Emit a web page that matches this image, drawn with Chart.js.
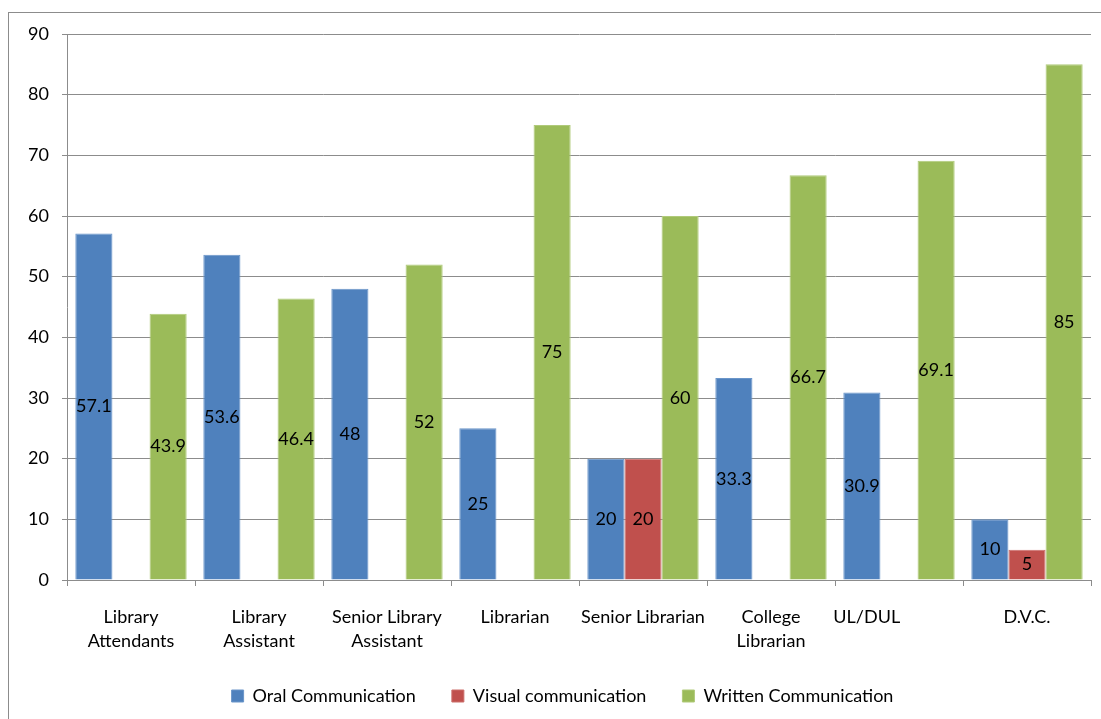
<!DOCTYPE html>
<html>
<head>
<meta charset="utf-8">
<script src="https://cdn.jsdelivr.net/npm/chart.js@4/dist/chart.umd.min.js"></script>
<style>
  html, body { margin: 0; padding: 0; background: #fff; }
  #wrap { width: 1101px; height: 719px; }
</style>
</head>
<body>
<div id="wrap"><canvas id="chart"></canvas></div>
<script>
const categories = [
  ["Library", "Attendants"],
  ["Library", "Assistant"],
  ["Senior Library", "Assistant"],
  "Librarian",
  "Senior Librarian",
  ["College", "Librarian"],
  "UL/DUL              ",
  "D.V.C."
];
const oralValues = [57.1, 53.6, 48, 25, 20, 33.3, 30.9, 10];
const visualValues = [0, 0, 0, 0, 20, 0, 0, 5];
const writtenValues = [43.9, 46.4, 52, 75, 60, 66.7, 69.1, 85];
const seriesNames = ["Oral Communication", "Visual communication", "Written Communication"];

const fontFamily = "Lato, 'Open Sans', sans-serif";

// outer frame of the chart object + fixed legend height / position
const framePlugin = {
  id: "frame",
  afterInit(chart) {
    const legend = chart.legend;
    const origFit = legend.fit;
    legend.fit = function () {
      origFit.call(this);
      this.height = 68;
    };
  },
  afterLayout(chart) {
    // nudge legend to the right like the original
    chart.legend.left += 17;
    chart.legend.right += 17;
  },
  beforeDraw(chart) {
    const ctx = chart.ctx;
    ctx.save();
    ctx.fillStyle = "#fff";
    ctx.fillRect(0, 0, chart.width, chart.height);
    ctx.strokeStyle = "#8c8c8c";
    ctx.lineWidth = 1;
    ctx.strokeRect(8.5, 12.5, chart.width + 20, chart.height + 20);
    ctx.restore();
  }
};

// value labels in the middle of each bar
const barLabels = {
  id: "barLabels",
  afterDatasetsDraw(chart) {
    const ctx = chart.ctx;
    ctx.save();
    ctx.font = "18px " + fontFamily;
    ctx.fillStyle = "#000";
    ctx.textAlign = "center";
    ctx.textBaseline = "middle";
    chart.data.datasets.forEach((ds, i) => {
      chart.getDatasetMeta(i).data.forEach((bar, j) => {
        const v = ds.data[j];
        if (!v) return;
        ctx.fillText(String(v), bar.x, (bar.y + bar.base) / 2);
      });
    });
    ctx.restore();
  }
};

new Chart(document.getElementById("chart").getContext("2d"), {
  type: "bar",
  data: {
    labels: categories,
    datasets: [
      { label: seriesNames[0], data: oralValues, backgroundColor: "#4f81bd", borderColor: "#6a95c9", borderWidth: 1 },
      { label: seriesNames[1], data: visualValues, backgroundColor: "#c0504d", borderColor: "#cc6e6b", borderWidth: 1 },
      { label: seriesNames[2], data: writtenValues, backgroundColor: "#9bbb59", borderColor: "#b0ca7a", borderWidth: 1 }
    ]
  },
  options: {
    responsive: true,
    maintainAspectRatio: false,
    animation: false,
    layout: { padding: { left: 0, right: 10, top: 34, bottom: 0 } },
    datasets: { bar: { categoryPercentage: 0.87, barPercentage: 1 } },
    scales: {
      x: {
        grid: { drawOnChartArea: false, drawTicks: true, tickLength: 6, color: "#8c8c8c", offset: true },
        border: { display: true, color: "#8c8c8c" },
        ticks: { color: "#000", font: { family: fontFamily, size: 18, lineHeight: 1.333 }, maxRotation: 0, autoSkip: false, padding: 19 },
        afterFit(scale) { scale.height = 71; }
      },
      y: {
        min: 0,
        max: 90,
        grid: { color: "#8c8c8c", tickLength: 5 },
        border: { display: true, color: "#8c8c8c" },
        ticks: { stepSize: 10, color: "#000", font: { family: fontFamily, size: 18 }, padding: 13 },
        afterFit(scale) { scale.width = 67; }
      }
    },
    plugins: {
      legend: {
        position: "bottom",
        labels: {
          boxWidth: 12,
          boxHeight: 12,
          padding: 36,
          color: "#000",
          font: { family: fontFamily, size: 18 },
          useBorderRadius: false
        }
      },
      tooltip: { enabled: false }
    }
  },
  plugins: [framePlugin, barLabels]
});
</script>
</body>
</html>
